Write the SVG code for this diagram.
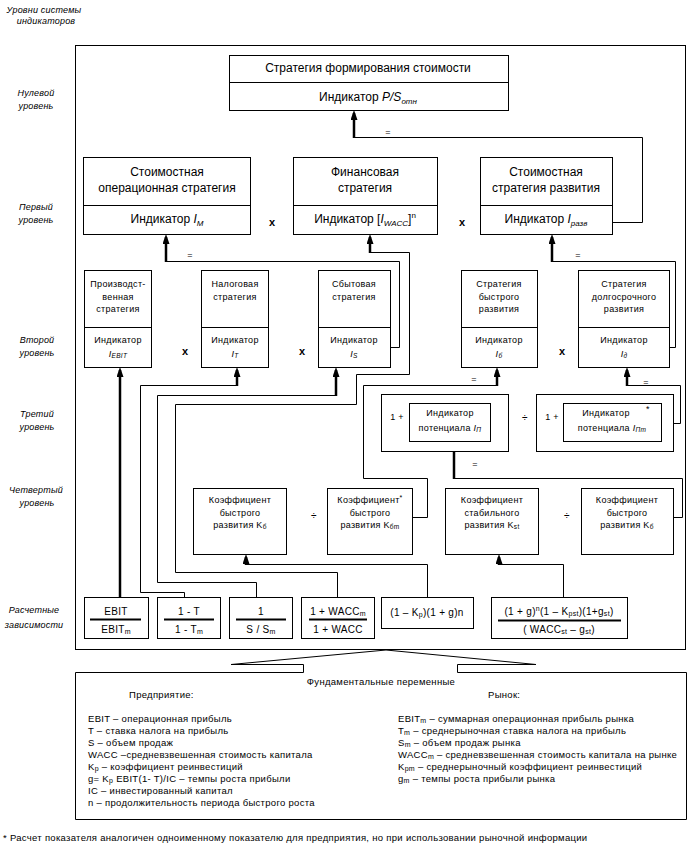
<svg xmlns="http://www.w3.org/2000/svg" width="700" height="859" viewBox="0 0 700 859">
<defs>
<marker id="ah" markerUnits="userSpaceOnUse" markerWidth="10" markerHeight="7" refX="7" refY="3.5" orient="auto" viewBox="0 0 10 7"><path d="M0,0 L10,3.5 L0,7 z" fill="#000"/></marker>
</defs>
<style>
.b{fill:#fff;stroke:#000;stroke-width:1}
.ln{fill:none;stroke:#000;stroke-width:1}
.th{fill:none;stroke:#000;stroke-width:2.5;marker-end:url(#ah)}
.fr{fill:none;stroke:#000;stroke-width:2}
text{font-family:"Liberation Sans",Arial,sans-serif;fill:#000}
.t12{font-size:12px;text-anchor:middle}
.t9{font-size:9px;letter-spacing:0.3px;text-anchor:middle}
.t10{font-size:10px;letter-spacing:0.3px;text-anchor:middle}
.lv{font-size:9px;font-style:italic;text-anchor:middle;letter-spacing:0.2px}
.tl{font-size:9.5px;letter-spacing:0.3px}
.op{font-size:11px;font-weight:bold;text-anchor:middle}
.i{font-style:italic}
</style>

<g id="level-labels">
<text class="lv" x="44" y="13">Уровни системы</text>
<text class="lv" x="46" y="24">индикаторов</text>
<text class="lv" x="36" y="96">Нулевой</text>
<text class="lv" x="36" y="109">уровень</text>
<text class="lv" x="36" y="210">Первый</text>
<text class="lv" x="36" y="223">уровень</text>
<text class="lv" x="37" y="343">Второй</text>
<text class="lv" x="37" y="356">уровень</text>
<text class="lv" x="37" y="417">Третий</text>
<text class="lv" x="37" y="430">уровень</text>
<text class="lv" x="36" y="493">Четвертый</text>
<text class="lv" x="37" y="506">уровень</text>
<text class="lv" x="34" y="613">Расчетные</text>
<text class="lv" x="34" y="628">зависимости</text>
</g>

<g id="frame"><rect class="ln" x="75.5" y="45.5" width="610" height="604"/></g>

<g id="connectors">
<path class="ln" d="M354,137.5 H642.5 V222.5 H612"/>
<path class="ln" d="M166,261.5 H399.5 V347.5 H390"/>
<path class="ln" d="M370,252.5 H409.5 V374.5 H356.5 V404.5 H175.5 V572.5 H337.5 V597"/>
<path class="ln" d="M552,261.5 H675.5 V347.5 H669"/>
<path class="ln" d="M237,385.5 H140.5 V592.5 H184.5 V597"/>
<path class="ln" d="M336,395.5 H157.5 V582.5 H256.5 V597"/>
<path class="ln" d="M497,385.5 H363.5 V478.5 H427.5 V517.5 H412"/>
<path class="ln" d="M627,385.5 H680.5 V423.5 H673"/>
<path class="ln" d="M454,478.5 H682.5 V517.5 H673"/>
<path class="ln" d="M246,564.5 H427.5 V597"/>
<path class="ln" d="M499,564.5 H563.5 V597"/>
<path class="th" d="M354,138 V113"/>
<path class="th" d="M166,262 V237"/>
<path class="th" d="M370,253 V237"/>
<path class="th" d="M552,262 V237"/>
<path class="th" d="M120,597 V370"/>
<path class="th" d="M237,386 V370"/>
<path class="th" d="M336,396 V370"/>
<path class="th" d="M497,386 V370"/>
<path class="th" d="M627,386 V370"/>
<path class="th" d="M454,479 V444"/>
<path class="th" d="M246,565 V557"/>
<path class="th" d="M499,565 V557"/>
<text class="t9" x="388" y="135">=</text>
<text class="t9" x="190" y="258">=</text>
<text class="t9" x="578" y="258">=</text>
<text class="t9" x="474" y="382">=</text>
<text class="t9" x="646" y="385">=</text>
<text class="t9" x="475" y="467">=</text>
<path class="ln" d="M75.5,672.5 H303.5 V664.5 H231 L386,650 L536,664.5 H457.5 V672.5 H686.5"/>
</g>

<g id="n0">
<rect class="b" x="229.5" y="55.5" width="279" height="55"/>
<line class="ln" x1="229.5" y1="82.5" x2="508.5" y2="82.5"/>
<text class="t12" x="368" y="72">Стратегия формирования стоимости</text>
<text class="t12" x="368" y="101">Индикатор <tspan class="i">P/S</tspan><tspan class="i" font-size="8" dy="3">отн</tspan></text>
</g>

<g id="n1a">
<rect class="b" x="83.5" y="157.5" width="167" height="77"/>
<line class="ln" x1="83.5" y1="205.5" x2="250.5" y2="205.5"/>
<text class="t12" x="167" y="176">Стоимостная</text>
<text class="t12" x="167" y="192">операционная стратегия</text>
<text class="t12" x="167" y="223">Индикатор <tspan class="i">I</tspan><tspan class="i" font-size="8" dy="3">M</tspan></text>
</g>
<g id="n1b">
<rect class="b" x="293.5" y="157.5" width="144" height="77"/>
<line class="ln" x1="293.5" y1="205.5" x2="437.5" y2="205.5"/>
<text class="t12" x="365" y="176">Финансовая</text>
<text class="t12" x="365" y="192">стратегия</text>
<text class="t12" x="365" y="223">Индикатор [<tspan class="i">I</tspan><tspan class="i" font-size="8" dy="3">WACC</tspan><tspan dy="-3">]</tspan><tspan font-size="8" dy="-5">n</tspan></text>
</g>
<g id="n1c">
<rect class="b" x="480.5" y="157.5" width="132" height="77"/>
<line class="ln" x1="480.5" y1="205.5" x2="612.5" y2="205.5"/>
<text class="t12" x="546" y="176">Стоимостная</text>
<text class="t12" x="546" y="192">стратегия развития</text>
<text class="t12" x="546" y="223">Индикатор <tspan class="i">I</tspan><tspan class="i" font-size="8" dy="3">разв</tspan></text>
</g>
<text class="op" x="272" y="226">x</text>
<text class="op" x="462" y="226">x</text>

<g id="n2a">
<rect class="b" x="84.5" y="270.5" width="67" height="97"/>
<line class="ln" x1="84.5" y1="327.5" x2="151.5" y2="327.5"/>
<text class="t9" x="118" y="287">Производст-</text>
<text class="t9" x="118" y="300">венная</text>
<text class="t9" x="118" y="312">стратегия</text>
<text class="t9" x="118" y="343">Индикатор</text>
<text class="t9" x="118" y="357"><tspan class="i">I</tspan><tspan class="i" font-size="6.5" dy="1">EBIT</tspan></text>
</g>
<g id="n2b">
<rect class="b" x="201.5" y="270.5" width="67" height="97"/>
<line class="ln" x1="201.5" y1="327.5" x2="268.5" y2="327.5"/>
<text class="t9" x="235" y="287">Налоговая</text>
<text class="t9" x="235" y="300">стратегия</text>
<text class="t9" x="235" y="343">Индикатор</text>
<text class="t9" x="235" y="357"><tspan class="i">I</tspan><tspan class="i" font-size="6.5" dy="1">T</tspan></text>
</g>
<g id="n2c">
<rect class="b" x="318.5" y="270.5" width="72" height="97"/>
<line class="ln" x1="318.5" y1="327.5" x2="390.5" y2="327.5"/>
<text class="t9" x="354" y="287">Сбытовая</text>
<text class="t9" x="354" y="300">стратегия</text>
<text class="t9" x="354" y="343">Индикатор</text>
<text class="t9" x="354" y="357"><tspan class="i">I</tspan><tspan class="i" font-size="6.5" dy="1">S</tspan></text>
</g>
<g id="n2d">
<rect class="b" x="461.5" y="270.5" width="76" height="97"/>
<line class="ln" x1="461.5" y1="327.5" x2="537.5" y2="327.5"/>
<text class="t9" x="499" y="287">Стратегия</text>
<text class="t9" x="499" y="300">быстрого</text>
<text class="t9" x="499" y="312">развития</text>
<text class="t9" x="499" y="343">Индикатор</text>
<text class="t9" x="499" y="357"><tspan class="i">I</tspan><tspan class="i" font-size="6.5" dy="1">б</tspan></text>
</g>
<g id="n2e">
<rect class="b" x="578.5" y="270.5" width="91" height="97"/>
<line class="ln" x1="578.5" y1="327.5" x2="669.5" y2="327.5"/>
<text class="t9" x="624" y="287">Стратегия</text>
<text class="t9" x="624" y="300">долгосрочного</text>
<text class="t9" x="624" y="312">развития</text>
<text class="t9" x="624" y="343">Индикатор</text>
<text class="t9" x="624" y="357"><tspan class="i">I</tspan><tspan class="i" font-size="6.5" dy="1">д</tspan></text>
</g>
<text class="op" x="185" y="355" font-size="9">x</text>
<text class="op" x="302" y="355" font-size="9">x</text>
<text class="op" x="562" y="355" font-size="9">x</text>

<g id="n3a">
<rect class="b" x="381.5" y="394.5" width="127" height="57"/>
<rect class="b" x="409.5" y="403.5" width="81" height="38"/>
<text class="t9" x="397" y="420">1 +</text>
<text class="t9" x="450" y="416">Индикатор</text>
<text class="t9" x="450" y="431">потенциала <tspan class="i">I</tspan><tspan class="i" font-size="6.5" dy="1">П</tspan></text>
</g>
<text class="t10" x="525" y="421">÷</text>
<g id="n3b">
<rect class="b" x="536.5" y="394.5" width="137" height="57"/>
<rect class="b" x="563.5" y="403.5" width="98" height="38"/>
<text class="t9" x="552" y="420">1 +</text>
<text class="t9" x="606" y="416">Индикатор</text>
<text class="t9" x="648" y="412">*</text>
<text class="t9" x="612" y="431">потенциала <tspan class="i">I</tspan><tspan class="i" font-size="6.5" dy="1">Пm</tspan></text>
</g>

<g id="n4a">
<rect class="b" x="193.5" y="488.5" width="93" height="66"/>
<text class="t9" x="240" y="503">Коэффициент</text>
<text class="t9" x="240" y="516">быстрого</text>
<text class="t9" x="240" y="528">развития K<tspan font-size="6.5" dy="1">б</tspan></text>
</g>
<text class="t10" x="314" y="519">÷</text>
<g id="n4b">
<rect class="b" x="327.5" y="488.5" width="85" height="66"/>
<text class="t9" x="370" y="503">Коэффициент<tspan font-size="7" dy="-3">*</tspan></text>
<text class="t9" x="370" y="516">быстрого</text>
<text class="t9" x="370" y="528">развития K<tspan font-size="6.5" dy="1">бm</tspan></text>
</g>
<g id="n4c">
<rect class="b" x="445.5" y="488.5" width="93" height="66"/>
<text class="t9" x="492" y="503">Коэффициент</text>
<text class="t9" x="492" y="516">стабильного</text>
<text class="t9" x="492" y="528">развития K<tspan font-size="6.5" dy="1">st</tspan></text>
</g>
<text class="t10" x="567" y="519">÷</text>
<g id="n4d">
<rect class="b" x="581.5" y="488.5" width="92" height="66"/>
<text class="t9" x="627" y="503">Коэффициент</text>
<text class="t9" x="627" y="516">быстрого</text>
<text class="t9" x="627" y="528">развития K<tspan font-size="6.5" dy="1">б</tspan></text>
</g>

<g id="c1">
<rect class="b" x="84.5" y="597.5" width="64" height="41"/>
<text class="t10" x="116" y="615">EBIT</text>
<line x1="90" y1="619.5" x2="141" y2="619.5" stroke="#000" stroke-width="2"/>
<text class="t10" x="116" y="633">EBIT<tspan font-size="7" dy="1">m</tspan></text>
</g>
<g id="c2">
<rect class="b" x="157.5" y="597.5" width="63" height="41"/>
<text class="t10" x="189" y="615">1 - T</text>
<line x1="164" y1="619.5" x2="214" y2="619.5" stroke="#000" stroke-width="2"/>
<text class="t10" x="189" y="633">1 - T<tspan font-size="7" dy="1">m</tspan></text>
</g>
<g id="c3">
<rect class="b" x="229.5" y="597.5" width="63" height="41"/>
<text class="t10" x="261" y="615">1</text>
<line x1="236" y1="619.5" x2="286" y2="619.5" stroke="#000" stroke-width="2"/>
<text class="t10" x="261" y="633">S / S<tspan font-size="7" dy="1">m</tspan></text>
</g>
<g id="c4">
<rect class="b" x="301.5" y="597.5" width="73" height="41"/>
<text class="t10" x="338" y="615">1 + WACC<tspan font-size="7" dy="1">m</tspan></text>
<line x1="309" y1="619.5" x2="367" y2="619.5" stroke="#000" stroke-width="2"/>
<text class="t10" x="338" y="633">1 + WACC</text>
</g>
<g id="c5">
<rect class="b" x="381.5" y="597.5" width="92" height="31"/>
<text class="t10" x="427" y="616">(1 – K<tspan font-size="7" dy="1">p</tspan><tspan dy="-1">)(1 + g)n</tspan></text>
</g>
<g id="c6">
<rect class="b" x="491.5" y="597.5" width="136" height="41"/>
<text class="t10" x="559" y="615">(1 + g)<tspan font-size="7" dy="-4">n</tspan><tspan dy="4">(1 – K</tspan><tspan font-size="7" dy="1">pst</tspan><tspan dy="-1">)(1+g</tspan><tspan font-size="7" dy="1">st</tspan><tspan dy="-1">)</tspan></text>
<line x1="498" y1="620.5" x2="621" y2="620.5" stroke="#000" stroke-width="2"/>
<text class="t10" x="559" y="633">( WACC<tspan font-size="7" dy="1">st</tspan><tspan dy="-1"> – g</tspan><tspan font-size="7" dy="1">st</tspan><tspan dy="-1">)</tspan></text>
</g>

<g id="fundamentals">
<path class="ln" d="M75.5,672.5 V819.5 H686.5 V672.5"/>
<text class="tl" x="381" y="685" text-anchor="middle">Фундаментальные переменные</text>
<text class="tl" x="129" y="698">Предприятие:</text>
<text class="tl" x="488" y="698">Рынок:</text>
<text class="tl" x="88" y="722">EBIT – операционная прибыль</text>
<text class="tl" x="88" y="734">T – ставка налога на прибыль</text>
<text class="tl" x="88" y="746">S – объем продаж</text>
<text class="tl" x="88" y="758">WACC –средневзвешенная стоимость капитала</text>
<text class="tl" x="88" y="770">K<tspan font-size="7" dy="1">р</tspan><tspan dy="-1"> – коэффициент реинвестиций</tspan></text>
<text class="tl" x="88" y="782">g= K<tspan font-size="7" dy="1">р</tspan><tspan dy="-1"> EBIT(1- T)/IC – темпы роста прибыли</tspan></text>
<text class="tl" x="88" y="794">IC – инвестированный капитал</text>
<text class="tl" x="88" y="806">n – продолжительность периода быстрого роста</text>
<text class="tl" x="398" y="722">EBIT<tspan font-size="7" dy="1">m</tspan><tspan dy="-1"> –  суммарная операционная прибыль рынка</tspan></text>
<text class="tl" x="398" y="734">T<tspan font-size="7" dy="1">m</tspan><tspan dy="-1"> – среднерыночная ставка налога на прибыль</tspan></text>
<text class="tl" x="398" y="746">S<tspan font-size="7" dy="1">m</tspan><tspan dy="-1"> – объем продаж рынка</tspan></text>
<text class="tl" x="398" y="758">WACC<tspan font-size="7" dy="1">m</tspan><tspan dy="-1"> – средневзвешенная стоимость капитала на рынке</tspan></text>
<text class="tl" x="398" y="770">K<tspan font-size="7" dy="1">pm</tspan><tspan dy="-1"> – среднерыночный коэффициент реинвестиций</tspan></text>
<text class="tl" x="398" y="782">g<tspan font-size="7" dy="1">m</tspan><tspan dy="-1"> – темпы роста прибыли рынка</tspan></text>
</g>

<text class="tl" x="3" y="841">* Расчет показателя аналогичен одноименному показателю для предприятия, но при использовании рыночной информации</text>
</svg>
